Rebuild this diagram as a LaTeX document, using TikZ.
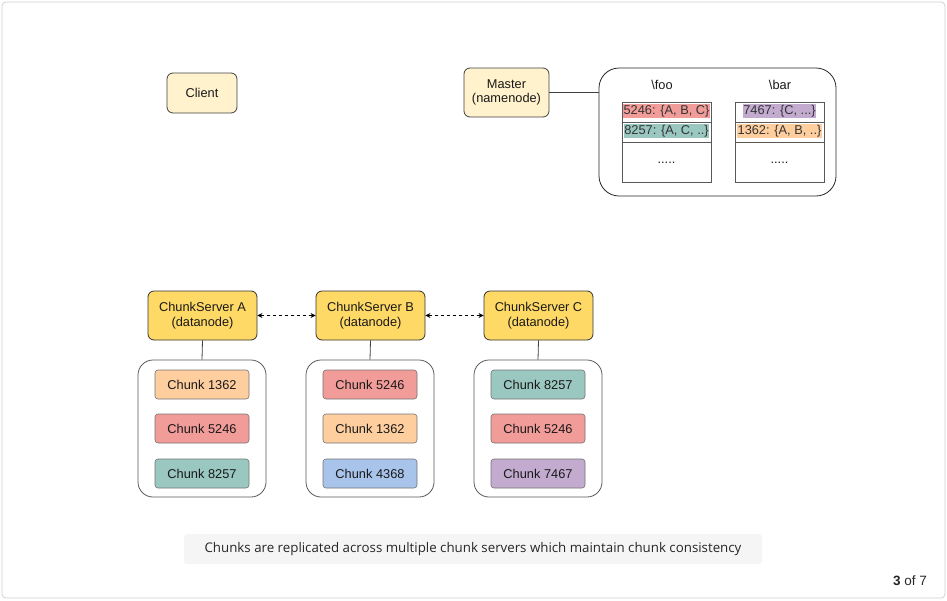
\documentclass[tikz,border=0pt]{standalone}
\usepackage{fontspec}
\setmainfont{Liberation Sans}
\newfontfamily\capfont{Open Sans}
\usetikzlibrary{arrows.meta}
\definecolor{srvfill}{HTML}{FFD966}
\definecolor{lightfill}{HTML}{FFF2CC}
\definecolor{cOrange}{HTML}{FFCE9F}
\definecolor{cRed}{HTML}{F19C99}
\definecolor{cGreen}{HTML}{9AC7BF}
\definecolor{cBlue}{HTML}{A9C4EB}
\definecolor{cPurple}{HTML}{C3ABD0}
\definecolor{capfill}{HTML}{F5F5F5}
\definecolor{frame}{HTML}{D0D0D0}
\begin{document}
\begin{tikzpicture}[x=1pt,y=-1pt,
  txt/.style={font=\fontsize{12.8}{14.5}\selectfont, text=black!90},
  lightbox/.style={txt, draw=black!75, fill=lightfill, rounded corners=6pt, line width=0.8pt, align=center},
  server/.style={txt, draw=black!80, fill=srvfill, rounded corners=6pt, line width=0.8pt, align=center, minimum width=109pt, minimum height=49pt},
  container/.style={draw=black!65, rounded corners=15pt, line width=0.8pt, minimum width=128pt, minimum height=137pt},
  chunk/.style={txt, draw=black!55, rounded corners=3pt, line width=0.6pt, minimum width=94pt, minimum height=29pt},
  cell/.style={draw=black!65, line width=0.8pt, minimum width=89pt, minimum height=20pt},
  hl/.style={txt, inner sep=0.6pt, text=black!80},
  link/.style={draw=black!75, line width=0.8pt},
  dashlink/.style={draw=black, line width=0.8pt, dashed, {Stealth[length=5pt,width=5pt]}-{Stealth[length=5pt,width=5pt]}}
]
\useasboundingbox (0,0) rectangle (947,600);
\draw[frame, rounded corners=4pt, line width=0.8pt] (2,2) rectangle (945,598);

% Client
\node[lightbox, minimum width=70pt, minimum height=40pt] (client) at (202,93) {\raisebox{-1pt}{Client}};

% Master
\node[lightbox, minimum width=85pt, minimum height=49pt] (master) at (506.5,92.5) {Master\\(namenode)};

% Table container
\node[draw=black!85, rounded corners=20pt, line width=0.8pt, minimum width=237pt, minimum height=128pt] (tbl) at (717.5,132) {};
\draw[link] (master.east) -- (tbl.west |- master.east) coordinate (tblin);

\node[txt] (foo) at (662,85) {\textbackslash foo};
\node[txt] (bar) at (780,85) {\textbackslash bar};

% foo column
\node[cell] (f1) at (666.5,112) {};
\node[cell] (f2) at (666.5,132) {};
\node[cell, minimum height=40pt] (f3) at (666.5,162) {};
\node[hl, fill=cRed] (f1t) at ([yshift=1pt]f1.center) {5246: \{A, B, C\}};
\node[hl, fill=cGreen] (f2t) at ([yshift=1pt]f2.center) {8257: \{A, C, ..\}};
\node[txt, anchor=base] (f3t) at (666.5,163) {.....};

% bar column
\node[cell] (b1) at (779.5,112) {};
\node[cell] (b2) at (779.5,132) {};
\node[cell, minimum height=40pt] (b3) at (779.5,162) {};
\node[hl, fill=cPurple] (b1t) at ([yshift=1pt]b1.center) {7467: \{C, ...\}};
\node[hl, fill=cOrange] (b2t) at ([yshift=1pt]b2.center) {1362: \{A, B, ..\}};
\node[txt, anchor=base] (b3t) at (779.5,163) {.....};

% Chunk servers
\node[server] (sa) at (202.5,315.5) {ChunkServer A\\(datanode)};
\node[server] (sb) at (370.5,315.5) {ChunkServer B\\(datanode)};
\node[server] (sc) at (538.5,315.5) {ChunkServer C\\(datanode)};
\draw[dashlink] (sa.east) -- (sb.west);
\draw[dashlink] (sb.east) -- (sc.west);

% Containers
\node[container] (ca) at (202,428.5) {};
\node[container] (cb) at (370,428.5) {};
\node[container] (cc) at (538,428.5) {};
\draw[link] (sa.south) -- (ca.north);
\draw[link] (sb.south) -- (cb.north);
\draw[link] (sc.south) -- (cc.north);

% Chunks A
\node[chunk, fill=cOrange] (a1) at (202,384.5) {Chunk 1362};
\node[chunk, fill=cRed]    (a2) at (202,428.5) {Chunk 5246};
\node[chunk, fill=cGreen]  (a3) at (202,473.5) {Chunk 8257};
% Chunks B
\node[chunk, fill=cRed]    (b1c) at (370,384.5) {Chunk 5246};
\node[chunk, fill=cOrange] (b2c) at (370,428.5) {Chunk 1362};
\node[chunk, fill=cBlue]   (b3c) at (370,473.5) {Chunk 4368};
% Chunks C
\node[chunk, fill=cGreen]  (c1) at (538,384.5) {Chunk 8257};
\node[chunk, fill=cRed]    (c2) at (538,428.5) {Chunk 5246};
\node[chunk, fill=cPurple] (c3) at (538,473.5) {Chunk 7467};

% Caption
\node[fill=capfill, rounded corners=3pt, minimum width=578pt, minimum height=30pt, font=\capfont\fontsize{13.3}{15}\selectfont, text=black!85] (cap) at (473,549) {Chunks are replicated across multiple chunk servers which maintain chunk consistency};

% page counter
\node[font=\fontsize{13.5}{15}\selectfont, text=black!85] (pg) at (910,581) {\textbf{3} of 7};
\end{tikzpicture}
\end{document}
